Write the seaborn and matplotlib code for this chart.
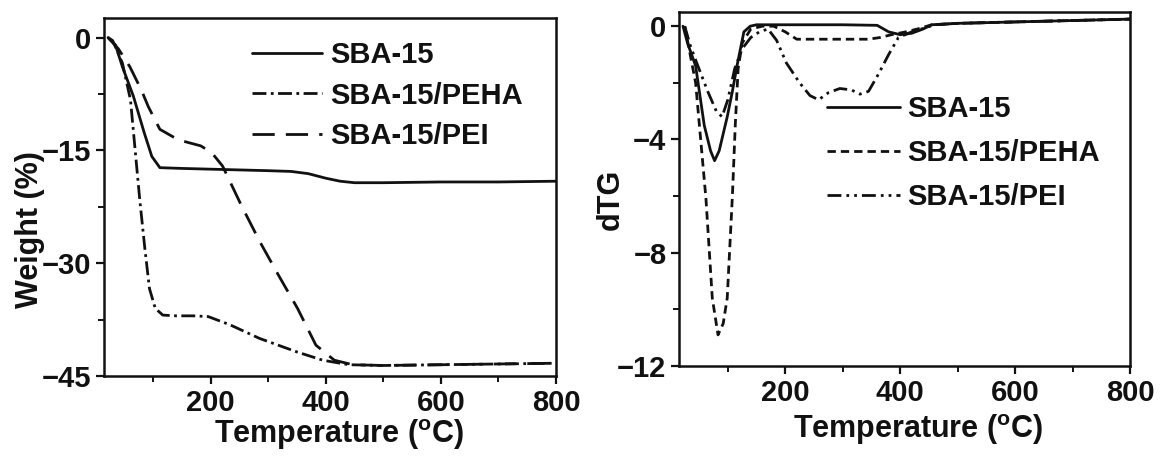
import numpy as np
import pandas as pd
import matplotlib
matplotlib.use("Agg")
import matplotlib.pyplot as plt
from matplotlib.ticker import MultipleLocator
import seaborn as sns

# TG curves (weight change, %)
temp_sba = [22, 35, 47, 66, 85, 98, 112, 150, 200, 250, 300, 340, 370, 400, 425, 450, 500, 600, 700, 800]
wt_sba = [0, -1.0, -3.9, -7.8, -12.7, -15.8, -17.3, -17.4, -17.5, -17.6, -17.7, -17.8, -18.1, -18.7, -19.1, -19.3, -19.3, -19.2, -19.2, -19.1]

temp_peha = [22, 30, 47, 61, 69, 77, 86, 94, 104, 117, 140, 170, 196, 234, 285, 350, 395, 440, 500, 600, 700, 800]
wt_peha = [0, -0.4, -3.4, -8.3, -14.9, -21.5, -28.1, -33.4, -36.0, -36.9, -37.0, -37.0, -37.1, -38.2, -40.0, -41.8, -42.9, -43.5, -43.6, -43.5, -43.4, -43.3]

temp_pei = [22, 40, 60, 80, 92, 112, 144, 183, 202, 221, 254, 286, 318, 351, 383, 415, 447, 500, 600, 700, 800]
wt_pei = [0, -1.5, -3.9, -7.0, -9.2, -12.2, -13.6, -14.4, -15.3, -17.1, -22.4, -27.2, -31.6, -36.0, -40.9, -42.9, -43.5, -43.6, -43.5, -43.4, -43.3]

# dTG curves
dtemp_sba = [22, 30, 44, 59, 70, 77, 85, 99, 108, 116, 128, 139, 150, 200, 300, 360, 380, 400, 420, 440, 455, 500, 600, 700, 800]
dtg_sba = [0, -0.6, -1.4, -3.5, -4.4, -4.75, -4.4, -3.2, -2.3, -1.4, -0.2, 0.0, 0.05, 0.05, 0.05, 0.03, -0.2, -0.3, -0.25, -0.1, 0.05, 0.1, 0.15, 0.2, 0.25]

dtemp_peha = [25, 44, 62, 73, 83, 92, 99, 108, 113, 118, 125, 140, 160, 180, 200, 220, 260, 300, 345, 365, 385, 410, 430, 455, 500, 600, 700, 800]
dtg_peha = [0, -2.0, -6.1, -9.6, -10.9, -10.5, -9.6, -6.0, -3.5, -1.5, -0.6, -0.1, 0.0, 0.0, -0.2, -0.46, -0.46, -0.46, -0.46, -0.4, -0.3, -0.2, -0.1, 0.05, 0.1, 0.15, 0.2, 0.25]

dtemp_pei = [25, 35, 46, 65, 80, 90, 100, 112, 125, 140, 155, 170, 185, 202, 225, 243, 258, 275, 295, 315, 330, 345, 362, 380, 397, 420, 445, 460, 500, 600, 700, 800]
dtg_pei = [0, -0.7, -1.3, -2.3, -3.0, -3.2, -2.6, -1.5, -0.8, -0.4, -0.2, -0.1, -0.5, -1.3, -2.0, -2.45, -2.6, -2.35, -2.2, -2.25, -2.4, -2.3, -1.7, -1.0, -0.4, -0.2, -0.05, 0.05, 0.1, 0.15, 0.2, 0.25]

labels = ["SBA-15", "SBA-15/PEHA", "SBA-15/PEI"]

sns.set_style("ticks")
plt.rcParams["font.family"] = ["Liberation Sans", "DejaVu Sans"]
plt.rcParams["font.weight"] = "bold"
plt.rcParams["mathtext.fontset"] = "custom"
plt.rcParams["mathtext.rm"] = "Liberation Sans:bold"
plt.rcParams["mathtext.bf"] = "Liberation Sans:bold"
plt.rcParams["axes.linewidth"] = 1.8
for key in ["text.color", "axes.labelcolor", "xtick.color", "ytick.color", "axes.edgecolor"]:
    plt.rcParams[key] = "#111111"

fig = plt.figure(figsize=(11.66, 4.59), dpi=100)
ax1 = fig.add_axes([0.0892, 0.1808, 0.3877, 0.780])
ax2 = fig.add_axes([0.5823, 0.2026, 0.3868, 0.7712])

lw = 2.0
sns.lineplot(x=temp_sba, y=wt_sba, ax=ax1, color="#111111", lw=lw, label=labels[0])
sns.lineplot(x=temp_peha, y=wt_peha, ax=ax1, color="#111111", lw=lw, label=labels[1],
             linestyle=(0, (5, 1.6, 1, 1.6)))
sns.lineplot(x=temp_pei, y=wt_pei, ax=ax1, color="#111111", lw=lw, label=labels[2],
             linestyle=(0, (8, 4)))

sns.lineplot(x=dtemp_sba, y=dtg_sba, ax=ax2, color="#111111", lw=lw, label=labels[0])
sns.lineplot(x=dtemp_peha, y=dtg_peha, ax=ax2, color="#111111", lw=lw, label=labels[1],
             linestyle=(0, (3, 1.8)))
sns.lineplot(x=dtemp_pei, y=dtg_pei, ax=ax2, color="#111111", lw=lw, label=labels[2],
             linestyle=(0, (5, 1.8, 1, 1.8, 1, 1.8)))

ax1.set_xlim(15, 800)
ax1.set_ylim(-45, 2.6)
ax1.set_xticks([200, 400, 600, 800])
ax1.set_yticks([0, -15, -30, -45])
ax1.yaxis.set_minor_locator(MultipleLocator(7.5))

ax2.set_xlim(15, 800)
ax2.set_ylim(-12, 0.5)
ax2.set_xticks([200, 400, 600, 800])
ax2.set_yticks([0, -4, -8, -12])
ax2.yaxis.set_minor_locator(MultipleLocator(2))

for ax in (ax1, ax2):
    ax.xaxis.set_minor_locator(MultipleLocator(100))
    ax.tick_params(which="major", direction="out", length=6, width=1.6, labelsize=21, pad=3)
    ax.tick_params(which="minor", direction="out", length=4, width=1.4)
    for s in ax.spines.values():
        s.set_visible(True)
    for t in ax.get_xticklabels() + ax.get_yticklabels():
        t.set_fontweight("bold")
    ax.set_xlabel(r"Temperature ($^{\mathrm{o}}$C)", fontsize=22, fontweight="bold")

ax1.set_ylabel("Weight (%)", fontsize=22, fontweight="bold")
ax2.set_ylabel("dTG", fontsize=22, fontweight="bold")
ax1.yaxis.set_label_coords(-0.13, 0.41)
ax2.yaxis.set_label_coords(-0.118, 0.47)
ax1.xaxis.set_label_coords(0.52, -0.115)
ax2.xaxis.set_label_coords(0.53, -0.13)

leg_font = {"size": 21, "weight": "bold"}
ax1.legend(loc="upper left", bbox_to_anchor=(0.327, 0.935), frameon=False, prop=leg_font,
           handlelength=2.4, handletextpad=0.3, labelspacing=0.42, borderpad=0, borderaxespad=0)
ax2.legend(loc="upper left", bbox_to_anchor=(0.328, 0.765), frameon=False, prop=leg_font,
           handlelength=2.5, handletextpad=0.25, labelspacing=0.55, borderpad=0, borderaxespad=0)

fig.savefig("out.png", dpi=100)
